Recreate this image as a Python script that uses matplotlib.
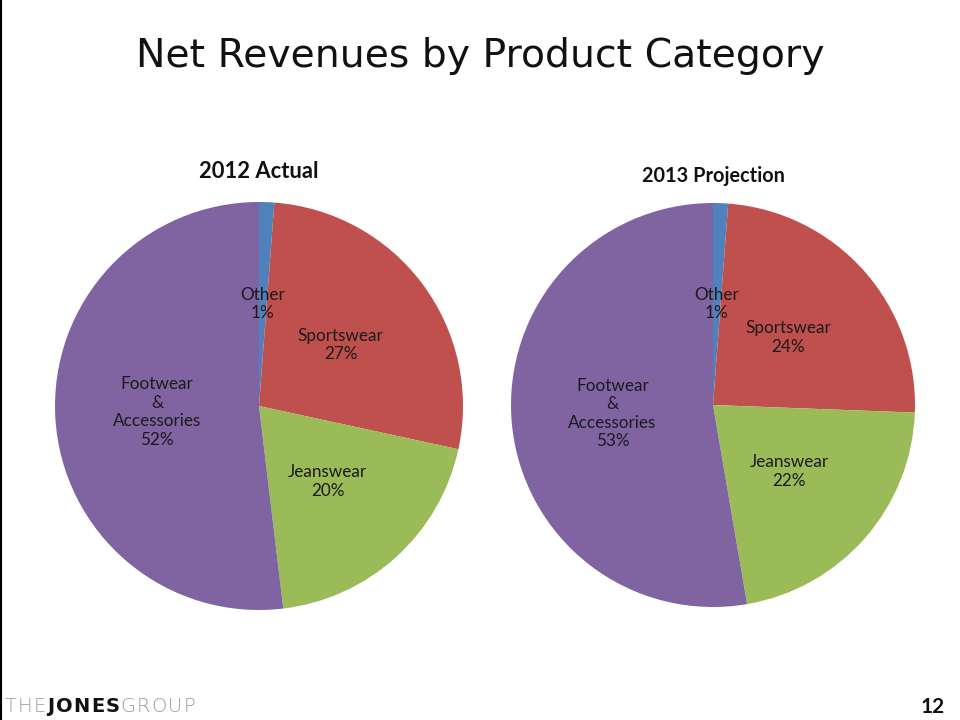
import matplotlib.pyplot as plt
import numpy as np
from matplotlib.lines import Line2D

# data
categories = ["Other", "Sportswear", "Jeanswear", "Footwear\n&\nAccessories"]
actual_2012 = [1.2, 27.2, 19.7, 51.9]
projection_2013 = [1.2, 24.4, 21.7, 52.7]
colors = ["#4F81BD", "#C0504D", "#9BBB59", "#8064A2"]

fig = plt.figure(figsize=(9.6, 7.2), dpi=100)
fig.patch.set_facecolor("white")

fig.text(0.5, 1 - 56 / 720, "Net Revenues by Product Category", ha="center", va="center",
         fontsize=28.4, family="DejaVu Sans", color="#111111")


def draw_pie(rect, values, title, title_y, title_size):
    ax = fig.add_axes(rect)
    wedges, _ = ax.pie(values, colors=colors, startangle=90, counterclock=False,
                       wedgeprops=dict(linewidth=0))
    total = sum(values)
    for w, name, v in zip(wedges, categories, values):
        ang = np.deg2rad((w.theta1 + w.theta2) / 2)
        x, y = 0.5 * np.cos(ang), 0.5 * np.sin(ang)
        ax.text(x, y, "%s\n%d%%" % (name, round(v / total * 100)), ha="center", va="center",
                fontsize=12.3, family="Lato", color="#1a1a1a", linespacing=1.2)
    ax.set_xlim(-1, 1)
    ax.set_ylim(-1, 1)
    ax.set_aspect("equal")
    ax.axis("off")
    fig.text(rect[0] + rect[2] / 2, title_y, title, ha="center", va="center",
             fontsize=title_size, fontweight="bold", family="Lato", color="#111111")


draw_pie([55 / 960, 110 / 720, 408 / 960, 408 / 720], actual_2012, "2012 Actual", 1 - 172 / 720, 15.8)
draw_pie([511 / 960, 113 / 720, 404 / 960, 404 / 720], projection_2013, "2013 Projection", 1 - 176 / 720, 14.3)

# footer logo and page number
ty = 1 - 707 / 720
fig.canvas.draw()
r = fig.canvas.get_renderer()
x = 5
for part, color, weight in [("THE", "#9a9a9a", "light"), ("JONES", "#111111", "bold"),
                            ("GROUP", "#9a9a9a", "light")]:
    for ch in part:
        t = fig.text(x / 960, ty, ch, ha="left", va="center", fontsize=14, family="DejaVu Sans",
                     fontweight=weight, color=color)
        x = t.get_window_extent(r).x1 + 1.2
fig.text(933 / 960, ty, "12", ha="center", va="center", fontsize=15, fontweight="bold",
         family="Lato", color="#111111")

# thin left border of the slide
fig.add_artist(Line2D([0.001, 0.001], [0, 1], color="black", linewidth=1.5))

fig.savefig("out.png", dpi=100)
